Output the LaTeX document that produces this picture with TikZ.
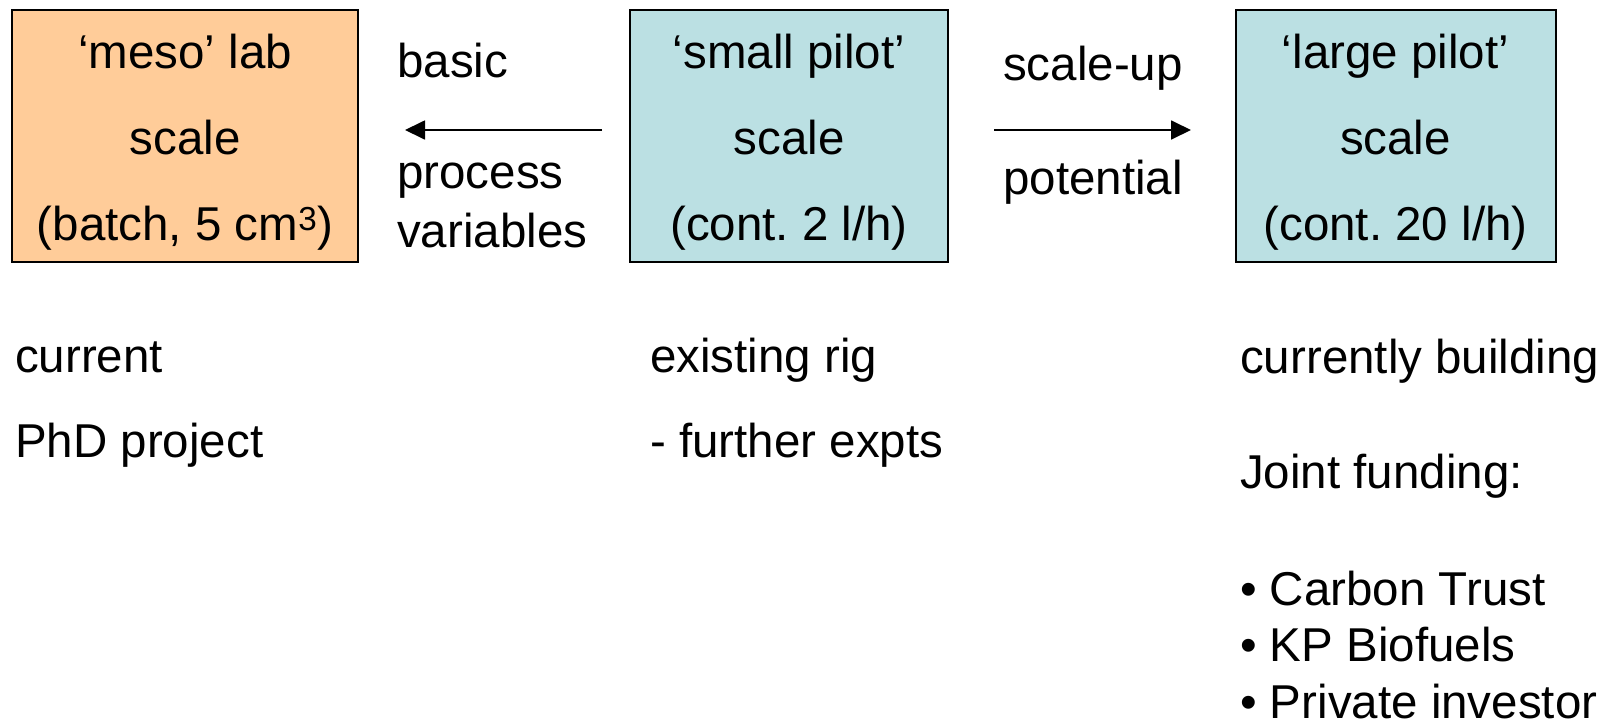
\documentclass[tikz,border=0pt]{standalone}
\usepackage{fontspec}
\setmainfont{Liberation Sans}
\usetikzlibrary{arrows.meta}
\definecolor{labfill}{HTML}{FFCC99}
\definecolor{pilotfill}{HTML}{BBE0E3}
\frenchspacing
\begin{document}
\begin{tikzpicture}[x=1pt, y=-1pt,
  every node/.style={font=\fontsize{47.5}{57}\selectfont, inner sep=0pt},
  scalebox/.style={draw=black, line width=2pt, minimum height=252pt, fill=#1},
  ctext/.style={anchor=base},
  ltext/.style={anchor=base west},
  flow/.style={line width=1.8pt, -{Triangle[length=20pt,width=19pt]}}]

  % canvas
  \useasboundingbox (0,0) rectangle (1610,726);

  % the three scales
  \node[scalebox=labfill,   minimum width=346pt] (meso)  at (185,136) {};
  \node[scalebox=pilotfill, minimum width=318pt] (small) at (789,136) {};
  \node[scalebox=pilotfill, minimum width=320pt] (large) at (1395.5,136) {};

  \node[ctext] (meso1) at (185,68)  {‘meso’ lab};
  \node[ctext] (meso2) at (185,154) {scale};
  \node[ctext] (meso3) at (185,240) {(batch, 5 cm\textsuperscript{3})};

  \node[ctext] (small1) at (789,68)  {‘small pilot’};
  \node[ctext] (small2) at (789,154) {scale};
  \node[ctext] (small3) at (789,240) {(cont. 2 l/h)};

  \node[ctext] (large1) at (1395.5,68)  {‘large pilot’};
  \node[ctext] (large2) at (1395.5,154) {scale};
  \node[ctext] (large3) at (1395.5,240) {(cont. 20 l/h)};

  % arrows between the scales
  \coordinate (backstart) at (602,130);
  \coordinate (backend)   at (405,130);
  \coordinate (upstart)   at (994,130);
  \coordinate (upend)     at (1191,130);
  \draw[flow] (backstart) -- (backend);
  \draw[flow] (upstart) -- (upend);

  \node[ltext] (basic) at (397,77)  {basic};
  \node[ltext] (proc)  at (397,188) {process};
  \node[ltext] (vars)  at (397,247) {variables};

  \node[ltext] (scaleup) at (1003,80)  {scale-up};
  \node[ltext] (potent)  at (1003,194) {potential};

  % notes under each scale
  \node[ltext] (cur) at (15,372) {current};
  \node[ltext] (phd) at (15,457) {PhD project};

  \node[ltext] (rig)   at (650,372) {existing rig};
  \node[ltext] (expts) at (650,457) {- further expts};

  \node[ltext] (build) at (1240,373) {currently building};
  \node[ltext] (fund)  at (1240,488) {Joint funding:};
  \node[ltext] (f1) at (1240,605) {• Carbon Trust};
  \node[ltext] (f2) at (1240,661) {• KP Biofuels};
  \node[ltext] (f3) at (1240,718) {• Private investor};
\end{tikzpicture}
\end{document}
